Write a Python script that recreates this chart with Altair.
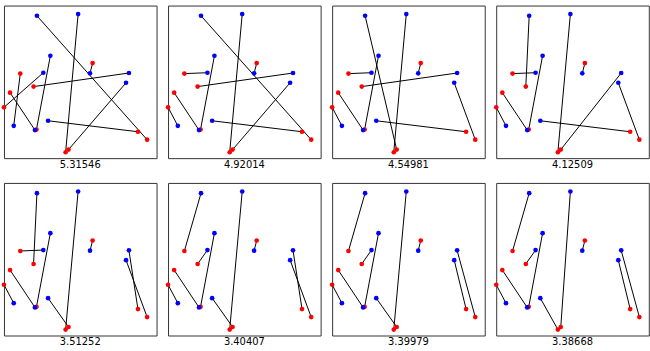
import altair as alt
import pandas as pd

# Blue points (x, y in unit square, y up)
blue_x = [0.216, 0.486, 0.304, 0.258, 0.564, 0.819, 0.800, 0.064, 0.203, 0.289]
blue_y = [0.933, 0.944, 0.671, 0.560, 0.556, 0.558, 0.494, 0.212, 0.184, 0.245]
# Red points
red_x = [0.581, 0.107, 0.194, 0.040, 0.000, 0.213, 0.878, 0.938, 0.423, 0.404]
red_y = [0.623, 0.554, 0.469, 0.429, 0.333, 0.188, 0.173, 0.121, 0.056, 0.039]

costs = ["5.31546", "4.92014", "4.54981", "4.12509",
         "3.51252", "3.40407", "3.39979", "3.38668"]

# For each panel: red partner (1-based) of blue point 1..10
matchings = [
    [8, 10, 6, 5, 1, 3, 9, 2, 4, 7],
    [8, 10, 6, 2, 1, 3, 9, 5, 4, 7],
    [9, 10, 6, 2, 1, 3, 8, 5, 4, 7],
    [3, 10, 6, 2, 1, 9, 8, 5, 4, 7],
    [3, 10, 6, 2, 1, 7, 8, 5, 4, 9],
    [2, 10, 6, 3, 1, 7, 8, 5, 4, 9],
    [2, 10, 6, 3, 1, 8, 7, 5, 4, 9],
    [2, 9, 6, 3, 1, 8, 7, 5, 4, 10],
]

xs = alt.Scale(domain=[0, 1], nice=False, zero=False)
ys = alt.Scale(domain=[0, 1], nice=False, zero=False)

red_df = pd.DataFrame({"x": red_x, "y": red_y})
blue_df = pd.DataFrame({"x": blue_x, "y": blue_y})


def panel(cost, match):
    ldf = pd.DataFrame({
        "bx": blue_x,
        "by": blue_y,
        "rx": [red_x[m - 1] for m in match],
        "ry": [red_y[m - 1] for m in match],
    })
    lines = alt.Chart(ldf).mark_rule(color="black", strokeWidth=1).encode(
        x=alt.X("bx:Q", scale=xs, axis=None),
        y=alt.Y("by:Q", scale=ys, axis=None),
        x2="rx:Q",
        y2="ry:Q",
    )
    red = alt.Chart(red_df).mark_circle(color="#ff0000", size=22, opacity=1).encode(
        x=alt.X("x:Q", scale=xs, axis=None),
        y=alt.Y("y:Q", scale=ys, axis=None),
    )
    blue = alt.Chart(blue_df).mark_circle(color="#0000ff", size=22, opacity=1).encode(
        x=alt.X("x:Q", scale=xs, axis=None),
        y=alt.Y("y:Q", scale=ys, axis=None),
    )
    return alt.layer(lines, red, blue).properties(
        width=154,
        height=154,
        title=alt.TitleParams(
            text=cost, orient="bottom", fontSize=10, offset=2,
            font="DejaVu Sans", fontWeight="normal", color="black",
        ),
    )


panels = [panel(c, m) for c, m in zip(costs, matchings)]
row1 = alt.hconcat(*panels[:4], spacing=7.6)
row2 = alt.hconcat(*panels[4:], spacing=7.6)
chart = alt.vconcat(row1, row2, spacing=11).properties(
    padding={"left": 1, "top": 3, "right": 0, "bottom": 0},
    background="white",
).configure_view(
    stroke="#333333", strokeWidth=1
)

chart.save("out.html", embed_options={"renderer": "svg", "actions": False})
